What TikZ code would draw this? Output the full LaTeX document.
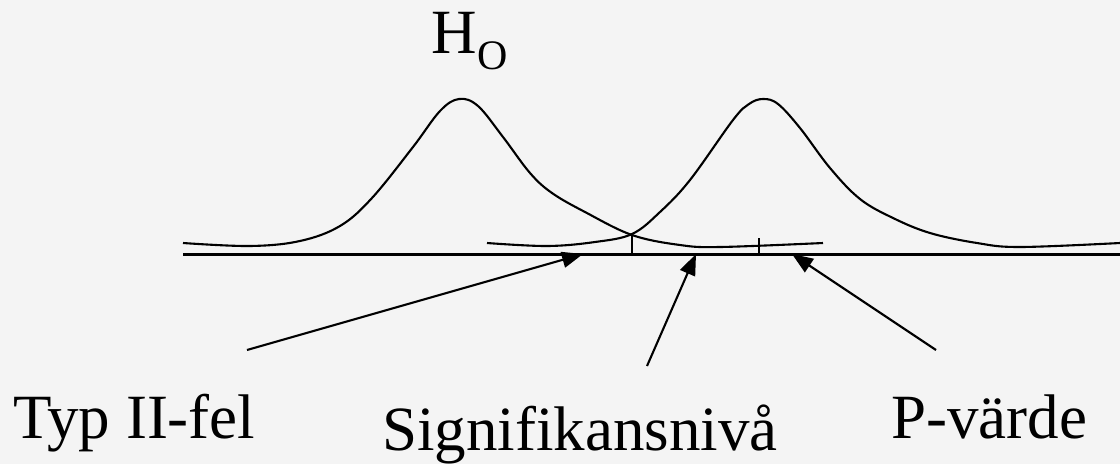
\documentclass[tikz,border=0pt]{standalone}
\usepackage{fontspec}
\setmainfont{Liberation Serif}[Ligatures=NoCommon]
\usetikzlibrary{arrows.meta}
\definecolor{bg}{HTML}{F4F4F4}
\tikzset{
  curve/.style={line width=2.1pt, line join=round},
  axisline/.style={line width=2.3pt},
  tick/.style={line width=2pt},
  pointer/.style={line width=2.1pt, -{Triangle[length=21pt,width=16pt]}},
  label/.style={inner sep=0pt, anchor=base west, font=\fontsize{63}{70}\selectfont},
}
\begin{document}
\begin{tikzpicture}[x=1pt,y=-1pt]
\fill[bg] (0,0) rectangle (1120,464);
\useasboundingbox (0,0) rectangle (1120,464);
% axis
\coordinate (axL) at (183,254.5);
\coordinate (axR) at (1120,254.5);
\draw[axisline] (axL) -- (axR);
% H0 curve
\draw[curve] plot[smooth, tension=0.6] coordinates {
 (183,243) (250,246) (300,241) (340,226) (372,198) (413,147) (440,111) (459,99)
 (478,106) (503,137) (530,173) (552,193) (585,212) (632,235) (680,245) (720,247)
 (823,243)};
% H1 curve
\draw[curve] plot[smooth, tension=0.6] coordinates {
 (487,243) (547,246) (595,242) (632,234) (660,212) (690,180) (733,120) (749,104) (763,99)
 (778,104) (800,128) (830,168) (860,199) (893,218) (930,233) (977,243) (1020,247) (1120,243)};
% ticks
\coordinate (t1a) at (632,234);
\coordinate (t1b) at (632,254.5);
\coordinate (t2a) at (759,238);
\coordinate (t2b) at (759,254.5);
\draw[tick] (t1a) -- (t1b);
\draw[tick] (t2a) -- (t2b);
% labels
\node[label] (h0) at (431,53) {H\kern1pt\raisebox{-16pt}{\fontsize{42}{46}\selectfont O}};
\node[label] (typ) at (13,438) {Typ II-fel};
\node[label] (sig) at (382,450) {Signifikansnivå};
\node[label] (pv) at (891,438) {P-värde};
% arrows
\coordinate (a1s) at (247,350);
\coordinate (a1e) at (583,254);
\coordinate (a2s) at (647,366);
\coordinate (a2e) at (696,254);
\coordinate (a3s) at (936,350);
\coordinate (a3e) at (792,254);
\draw[pointer] (a1s) -- (a1e);
\draw[pointer] (a2s) -- (a2e);
\draw[pointer] (a3s) -- (a3e);
\end{tikzpicture}
\end{document}
